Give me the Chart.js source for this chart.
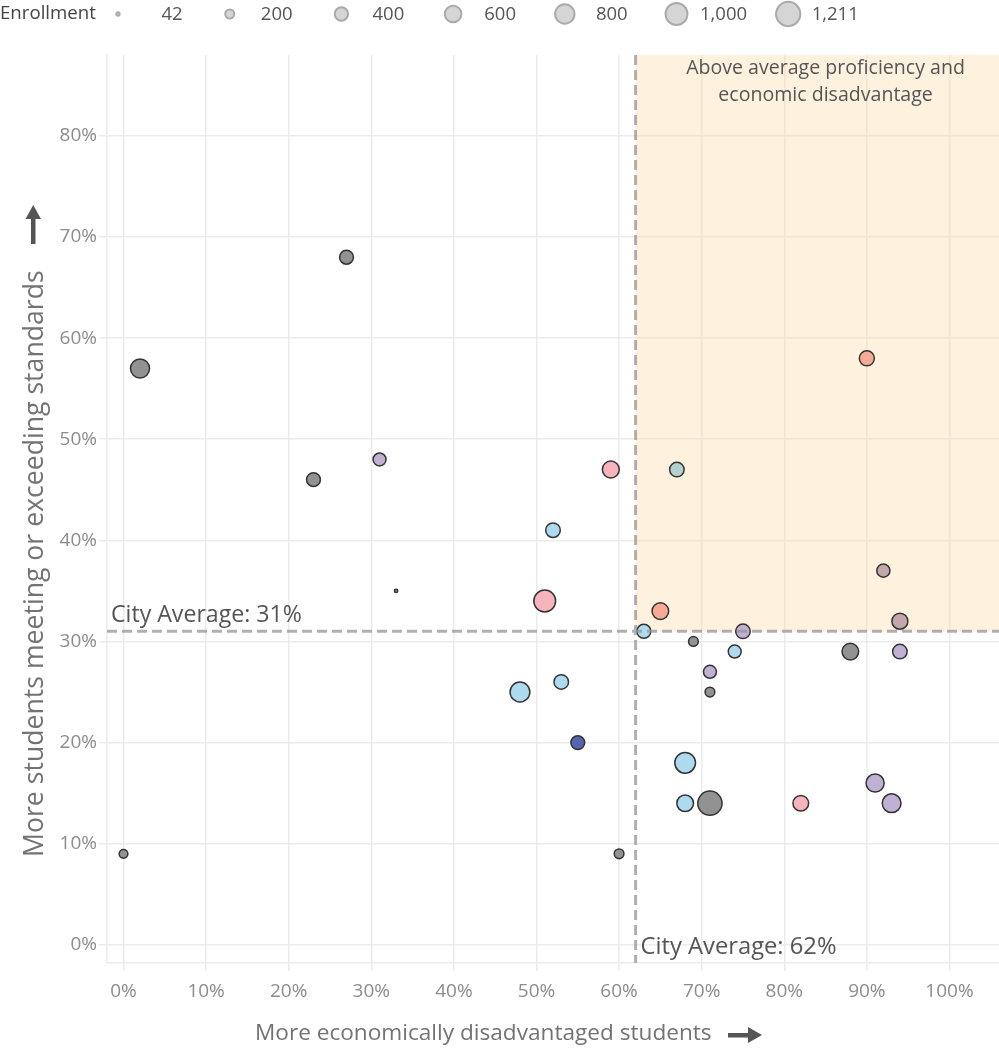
<!DOCTYPE html>
<html>
<head>
<meta charset="utf-8">
<script src="https://cdn.jsdelivr.net/npm/chart.js@4.4.1/dist/chart.umd.min.js"></script>
<style>
  html, body { margin: 0; padding: 0; background: #fff; }
</style>
</head>
<body>
<canvas id="chart_schools" width="999" height="1052"></canvas>
<script>
// one entry per school
var pct_disadvantaged = [27, 2, 23, 31, 33, 0, 59, 67, 52, 51, 65, 63, 75, 92, 94, 69, 74, 88, 94, 71, 71, 48, 53, 55, 60, 68, 68, 71, 82, 91, 93, 90];
var pct_proficient = [68, 57, 46, 48, 35, 9, 47, 47, 41, 34, 33, 31, 31, 37, 32, 30, 29, 29, 29, 27, 25, 25, 26, 20, 9, 18, 14, 14, 14, 16, 14, 58];
var enrollment = [430, 770, 430, 380, 42, 190, 620, 470, 470, 990, 600, 440, 470, 390, 560, 230, 380, 600, 470, 380, 230, 830, 470, 430, 230, 900, 600, 1211, 540, 700, 750, 500];
var school_group = ['gray', 'gray', 'gray', 'purple', 'gray', 'gray', 'pink', 'teal', 'blue', 'pink', 'salmon', 'blue', 'purple', 'mauve', 'mauve', 'gray', 'blue', 'gray', 'purple', 'purple', 'gray', 'blue', 'blue', 'navy', 'gray', 'blue', 'blue', 'gray', 'pink', 'purple', 'purple', 'salmon'];
var groups = ['gray', 'purple', 'blue', 'pink', 'salmon', 'teal', 'mauve', 'navy'];
var legend_sizes = [42, 200, 400, 600, 800, 1000, 1211];
var x_ticks = [0, 10, 20, 30, 40, 50, 60, 70, 80, 90, 100];
var y_ticks = [0, 10, 20, 30, 40, 50, 60, 70, 80];
var city_avg_x = 62;
var city_avg_y = 31;

var group_colors = {
  gray: '#929292',
  purple: '#c0b1d4',
  blue: '#aedaf0',
  pink: '#f7b4bb',
  salmon: '#f6ab97',
  teal: '#b6d1cc',
  mauve: '#c3a8a9',
  navy: '#5665b0'
};
var fontFamily = "'Open Sans', sans-serif";
Chart.defaults.font.family = fontFamily;

function bubbleRadius(n) {
  return 0.37 * Math.sqrt(n) - 0.75;
}

function fitFont(ctx, text, width) {
  ctx.font = '20px ' + fontFamily;
  var size = 20 * width / ctx.measureText(text).width;
  ctx.font = size + 'px ' + fontFamily;
  return size;
}

var datasets = groups.map(function (g) {
  var pts = [];
  for (var i = 0; i < enrollment.length; i++) {
    if (school_group[i] == g) {
      pts.push({ x: pct_disadvantaged[i], y: pct_proficient[i], r: bubbleRadius(enrollment[i]) });
    }
  }
  return {
    label: g,
    data: pts,
    backgroundColor: group_colors[g],
    borderColor: '#333333',
    borderWidth: 1.5
  };
});

var schoolPlugin = {
  id: 'schoolPlugin',
  beforeDatasetsDraw: function (chart) {
    var ctx = chart.ctx, area = chart.chartArea;
    var x = chart.scales.x, y = chart.scales.y;
    var x0 = x.getPixelForValue(city_avg_x);
    var y0 = y.getPixelForValue(city_avg_y);
    ctx.save();
    ctx.fillStyle = 'rgba(251, 217, 160, 0.35)';
    ctx.fillRect(x0, area.top, area.right - x0, y0 - area.top);
    ctx.restore();
  },
  afterDatasetsDraw: function (chart) {
    var ctx = chart.ctx, area = chart.chartArea;
    var x = chart.scales.x, y = chart.scales.y;
    var x0 = x.getPixelForValue(city_avg_x);
    var y0 = y.getPixelForValue(city_avg_y);
    ctx.save();
    // city average lines
    ctx.strokeStyle = 'rgba(150, 150, 150, 0.75)';
    ctx.lineWidth = 3;
    ctx.setLineDash([10, 5]);
    ctx.beginPath();
    ctx.moveTo(x0, area.top);
    ctx.lineTo(x0, area.bottom);
    ctx.moveTo(area.left, y0);
    ctx.lineTo(area.right, y0);
    ctx.stroke();
    ctx.setLineDash([]);

    ctx.fillStyle = '#555555';
    ctx.textBaseline = 'alphabetic';
    ctx.textAlign = 'left';
    fitFont(ctx, 'City Average: 31%', 191);
    ctx.fillText('City Average: 31%', area.left + 4, y0 - 9);
    fitFont(ctx, 'City Average: 62%', 196);
    ctx.textBaseline = 'middle';
    ctx.fillText('City Average: 62%', x0 + 5, y.getPixelForValue(0) + 2);

    ctx.textAlign = 'center';
    var cx = x.getPixelForValue(85);
    fitFont(ctx, 'Above average proficiency and', 279);
    ctx.fillText('Above average proficiency and', cx, area.top + 13);
    ctx.fillText('economic disadvantage', cx, area.top + 40);

    // axis titles
    ctx.fillStyle = '#737373';
    ctx.textAlign = 'left';
    fitFont(ctx, 'More economically disadvantaged students', 457);
    ctx.fillText('More economically disadvantaged students', 255, 1034);
    ctx.save();
    ctx.translate(35, 857);
    ctx.rotate(-Math.PI / 2);
    fitFont(ctx, 'More students meeting or exceeding standards', 587);
    ctx.fillText('More students meeting or exceeding standards', 0, 0);
    ctx.restore();

    // arrows
    ctx.fillStyle = '#555555';
    ctx.fillRect(728, 1033, 24, 4.5);
    ctx.beginPath();
    ctx.moveTo(762, 1035);
    ctx.lineTo(748, 1027);
    ctx.lineTo(748, 1043);
    ctx.closePath();
    ctx.fill();
    ctx.fillRect(31, 216, 4.5, 28);
    ctx.beginPath();
    ctx.moveTo(33.2, 205);
    ctx.lineTo(25.5, 219);
    ctx.lineTo(41, 219);
    ctx.closePath();
    ctx.fill();

    // enrollment legend
    ctx.textBaseline = 'middle';
    ctx.textAlign = 'left';
    ctx.fillStyle = '#444444';
    fitFont(ctx, 'Enrollment', 96);
    ctx.fillText('Enrollment', 0, 14);
    ctx.font = '18.5px ' + fontFamily;
    legend_sizes.forEach(function (n, i) {
      var lx = 118 + i * 111.7;
      ctx.beginPath();
      ctx.arc(lx, 14, bubbleRadius(n), 0, Math.PI * 2);
      ctx.fillStyle = '#d5d5d5';
      ctx.fill();
      ctx.strokeStyle = '#aaaaaa';
      ctx.lineWidth = 2;
      ctx.stroke();
      ctx.fillStyle = '#555555';
      ctx.textAlign = 'center';
      ctx.fillText(n.toLocaleString('en-US'), lx + (i == 0 ? 54 : 47), 15);
    });
    ctx.restore();
  }
};

var chart_schools = new Chart(document.getElementById('chart_schools').getContext('2d'), {
  type: 'bubble',
  data: { datasets: datasets },
  options: {
    responsive: false,
    animation: false,
    layout: { autoPadding: false, padding: { top: 55, right: 0, left: 0, bottom: 0 } },
    plugins: {
      legend: { display: false },
      tooltip: { enabled: false }
    },
    scales: {
      x: {
        type: 'linear',
        min: -2,
        max: 106,
        afterBuildTicks: function (s) { s.ticks = x_ticks.map(function (v) { return { value: v }; }); },
        afterFit: function (s) { s.height = 89; s.paddingLeft = 0; s.paddingRight = 0; },
        ticks: {
          color: '#8c8c8c',
          font: { size: 19 },
          padding: 9,
          maxRotation: 0,
          callback: function (v) { return v + '%'; }
        },
        grid: { color: '#ececec', lineWidth: 1.5, tickLength: 8 },
        border: { display: true, color: '#ececec', width: 1.5 }
      },
      y: {
        type: 'linear',
        min: -1.8,
        max: 88,
        afterBuildTicks: function (s) { s.ticks = y_ticks.map(function (v) { return { value: v }; }); },
        afterFit: function (s) { s.width = 107; s.paddingTop = 0; s.paddingBottom = 0; },
        ticks: {
          color: '#8c8c8c',
          font: { size: 19 },
          padding: 2,
          callback: function (v) { return v + '%'; }
        },
        grid: { color: '#ececec', lineWidth: 1.5, tickLength: 8 },
        border: { display: true, color: '#ececec', width: 1.5 }
      }
    }
  },
  plugins: [schoolPlugin]
});
</script>
</body>
</html>
